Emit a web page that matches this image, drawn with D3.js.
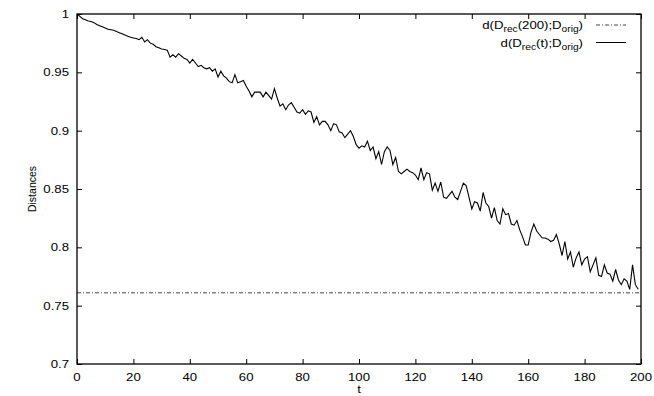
<!DOCTYPE html>
<html>
<head>
<meta charset="utf-8">
<script src="https://cdn.jsdelivr.net/npm/d3@7"></script>
<style>
  body { margin: 0; background: #fff; }
  text { font-family: "Liberation Sans", Arial, Helvetica, sans-serif; fill: #000; }
</style>
</head>
<body>
<div id="chart"></div>
<script>
// distance d(D_rec(t);D_orig) for t = 0..199
var distances = [
  1.000, 0.998, 0.996, 0.995, 0.994, 0.9935, 0.9926, 0.991, 0.990, 0.989,
  0.988, 0.987, 0.9865, 0.986, 0.985, 0.984, 0.983, 0.982, 0.981, 0.980,
  0.9795, 0.979, 0.978, 0.980, 0.976, 0.978, 0.975, 0.974, 0.972, 0.971,
  0.970, 0.9695, 0.969, 0.963, 0.965, 0.963, 0.966, 0.964, 0.962, 0.961,
  0.958, 0.961, 0.958, 0.955, 0.956, 0.954, 0.953, 0.954, 0.951, 0.953,
  0.946, 0.951, 0.947, 0.945, 0.942, 0.941, 0.948, 0.941, 0.942, 0.943,
  0.938, 0.934, 0.929, 0.933, 0.933, 0.933, 0.929, 0.933, 0.930, 0.927,
  0.936, 0.928, 0.921, 0.923, 0.918, 0.922, 0.924, 0.920, 0.916, 0.915,
  0.918, 0.914, 0.917, 0.916, 0.907, 0.912, 0.905, 0.908, 0.908, 0.905,
  0.900, 0.906, 0.905, 0.899, 0.898, 0.894, 0.897, 0.900, 0.895, 0.888,
  0.885, 0.887, 0.886, 0.891, 0.883, 0.886, 0.876, 0.882, 0.871, 0.882,
  0.886, 0.883, 0.871, 0.877, 0.865, 0.863, 0.865, 0.867, 0.865, 0.864,
  0.862, 0.858, 0.868, 0.858, 0.864, 0.863, 0.849, 0.855, 0.848, 0.856,
  0.843, 0.842, 0.845, 0.848, 0.843, 0.841, 0.848, 0.855, 0.853, 0.843,
  0.833, 0.839, 0.838, 0.831, 0.847, 0.838, 0.835, 0.825, 0.834, 0.823,
  0.820, 0.833, 0.828, 0.829, 0.820, 0.819, 0.823, 0.815, 0.809, 0.802,
  0.802, 0.813, 0.820, 0.814, 0.811, 0.808, 0.808, 0.807, 0.805, 0.806,
  0.811, 0.803, 0.793, 0.805, 0.790, 0.796, 0.783, 0.791, 0.796, 0.785,
  0.790, 0.792, 0.779, 0.785, 0.791, 0.776, 0.775, 0.785, 0.778, 0.777,
  0.771, 0.781, 0.772, 0.768, 0.773, 0.771, 0.764, 0.785, 0.768, 0.764
];
var steps = d3.range(distances.length);
var finalDistance = 0.761; // d(D_rec(200);D_orig)

var xTicks = [0, 20, 40, 60, 80, 100, 120, 140, 160, 180, 200];
var yTicks = [0.7, 0.75, 0.8, 0.85, 0.9, 0.95, 1];
var yTickLabels = ["0.7", "0.75", "0.8", "0.85", "0.9", "0.95", "1"];

var svgWidth = 654;
var svgHeight = 396;
var margin = { top: 14, right: 13, bottom: 32, left: 77 };
var width = svgWidth - margin.left - margin.right;
var height = svgHeight - margin.top - margin.bottom;
var stretch = "scale(1.2,1)"; // the original text is wider than tall

var svg = d3.select("#chart")
  .append("svg")
  .attr("width", svgWidth)
  .attr("height", svgHeight);

var chartGroup = svg.append("g")
  .attr("transform", `translate(${margin.left}, ${margin.top})`);

var xScale = d3.scaleLinear().domain([0, 200]).range([0, width]);
var yScale = d3.scaleLinear().domain([0.7, 1]).range([height, 0]);

// inward ticks on all four sides, gnuplot style
function tickAxis(axis, tx, ty) {
  var g = chartGroup.append("g")
    .attr("transform", `translate(${tx}, ${ty})`)
    .call(axis.tickSize(-5).tickFormat(""));
  g.select(".domain").remove();
  g.selectAll(".tick line").attr("stroke", "#000").attr("stroke-width", 1);
}
tickAxis(d3.axisBottom(xScale).tickValues(xTicks), 0, height);
tickAxis(d3.axisTop(xScale).tickValues(xTicks), 0, 0);
tickAxis(d3.axisLeft(yScale).tickValues(yTicks), 0, 0);
tickAxis(d3.axisRight(yScale).tickValues(yTicks), width, 0);

// tick labels
chartGroup.selectAll(".xlab")
  .data(xTicks)
  .enter()
  .append("text")
  .attr("class", "xlab")
  .attr("transform", d => `translate(${xScale(d)}, ${height + 16.5}) ${stretch}`)
  .attr("text-anchor", "middle")
  .style("font-size", "11px")
  .text(d => d);

chartGroup.selectAll(".ylab")
  .data(yTicks)
  .enter()
  .append("text")
  .attr("class", "ylab")
  .attr("transform", d => `translate(-8, ${yScale(d) + 4}) ${stretch}`)
  .attr("text-anchor", "end")
  .style("font-size", "11px")
  .text((d, i) => yTickLabels[i]);

// axis titles
chartGroup.append("text")
  .attr("transform", `translate(${xScale(100)}, ${height + 29}) ${stretch}`)
  .attr("text-anchor", "middle")
  .style("font-size", "11px")
  .text("t");

chartGroup.append("text")
  .attr("transform", `translate(${-margin.left + 36}, ${height / 2}) rotate(-90)`)
  .attr("text-anchor", "middle")
  .style("font-size", "10.5px")
  .text("Distances");

// final-distance reference line
chartGroup.append("line")
  .attr("x1", xScale(0))
  .attr("x2", xScale(200))
  .attr("y1", yScale(finalDistance))
  .attr("y2", yScale(finalDistance))
  .attr("stroke", "#444")
  .attr("stroke-width", 1)
  .attr("stroke-dasharray", "4,2,1,2");

// distance curve
var line = d3.line()
  .x((d, i) => xScale(steps[i]))
  .y(d => yScale(d));

chartGroup.append("path")
  .datum(distances)
  .attr("d", line)
  .attr("fill", "none")
  .attr("stroke", "#000")
  .attr("stroke-width", 1.1);

// plot border
chartGroup.append("rect")
  .attr("width", width)
  .attr("height", height)
  .attr("fill", "none")
  .attr("stroke", "#000")
  .attr("stroke-width", 1.3);

// legend
function legendLabel(g, sub1, mid) {
  var t = g.append("text")
    .attr("transform", `translate(0, 4) ${stretch}`)
    .attr("text-anchor", "end")
    .style("font-size", "11px");
  t.append("tspan").text("d(D");
  t.append("tspan").attr("dy", 3).style("font-size", "8.5px").text(sub1);
  t.append("tspan").attr("dy", -3).text(mid + ";D");
  t.append("tspan").attr("dy", 3).style("font-size", "8.5px").text("orig");
  t.append("tspan").attr("dy", -3).text(")");
}

var legendX = 583 - margin.left;
var leg1 = chartGroup.append("g").attr("transform", `translate(${legendX}, ${25 - margin.top})`);
legendLabel(leg1, "rec", "(200)");
leg1.append("line")
  .attr("x1", 13).attr("x2", 43)
  .attr("stroke", "#444").attr("stroke-width", 1)
  .attr("stroke-dasharray", "4,2,1,2");

var leg2 = chartGroup.append("g").attr("transform", `translate(${legendX}, ${42.5 - margin.top})`);
legendLabel(leg2, "rec", "(t)");
leg2.append("line")
  .attr("x1", 13).attr("x2", 43)
  .attr("stroke", "#000").attr("stroke-width", 1);
</script>
</body>
</html>
